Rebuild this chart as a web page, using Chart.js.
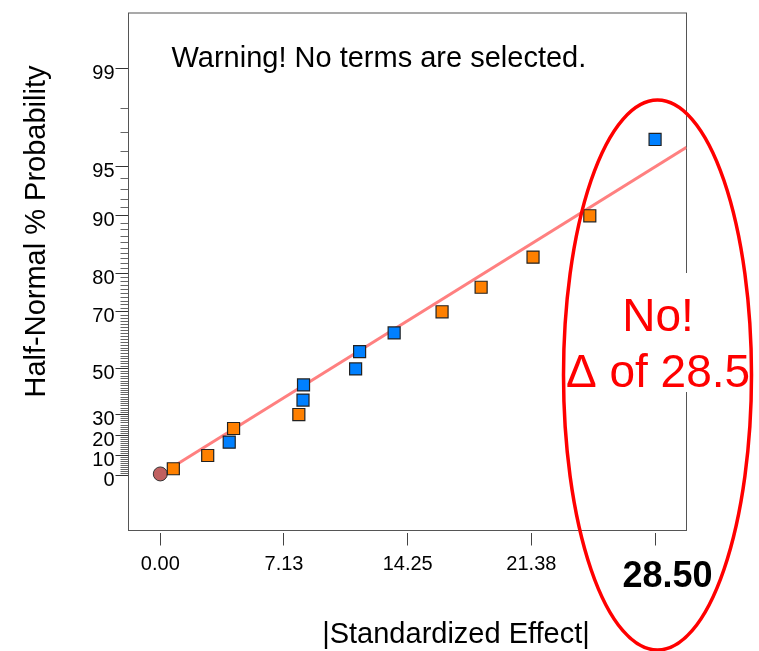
<!DOCTYPE html>
<html>
<head>
<meta charset="utf-8">
<script src="https://cdn.jsdelivr.net/npm/chart.js@4.4.1/dist/chart.umd.min.js"></script>
<style>
html, body { margin: 0; padding: 0; background: #fff; }
#wrap { position: relative; width: 759px; height: 651px; }
</style>
</head>
<body>
<div id="wrap"><canvas id="myHalfNormalChart"></canvas></div>
<script>
// values (x = |effect|, y = half-normal % probability)
var orangeEffects = [0.75, 2.73, 4.22, 7.98, 16.23, 18.48, 21.47, 24.74];
var orangeProbs = [3.33, 10, 23.33, 30, 70, 76.67, 83.33, 90];
var blueEffects = [3.97, 8.22, 8.25, 11.25, 11.48, 13.47, 28.50];
var blueProbs = [16.67, 36.67, 43.33, 50, 56.67, 63.33, 96.67];
var errorEffects = [0];
var errorProbs = [0.7];
var lineEffects = [0.75, 30.31];
var lineProbs = [4.47, 96.24];

var xTicks = [0, 7.125, 14.25, 21.375, 28.5];
var xTickLabels = ["0.00", "7.13", "14.25", "21.38", "28.50"];
var yMajorTicks = [0, 10, 20, 30, 50, 70, 80, 90, 95, 99];

var FONT = "'Liberation Sans', Arial, sans-serif";

// inverse normal (Acklam)
function probit(p) {
    var a = [-3.969683028665376e+01, 2.209460984245205e+02, -2.759285104469687e+02, 1.383577518672690e+02, -3.066479806614716e+01, 2.506628277459239e+00];
    var b = [-5.447609879822406e+01, 1.615858368580409e+02, -1.556989798598866e+02, 6.680131188771972e+01, -1.328068155288572e+01];
    var c = [-7.784894002430293e-03, -3.223964580411365e-01, -2.400758277161838e+00, -2.549671010229583e+00, 4.374664141464968e+00, 2.938163982698783e+00];
    var d = [7.784695709041462e-03, 3.224671290700398e-01, 2.445134137142996e+00, 3.754408661907416e+00];
    var pl = 0.02425, q, r;
    if (p < pl) {
        q = Math.sqrt(-2 * Math.log(p));
        return (((((c[0] * q + c[1]) * q + c[2]) * q + c[3]) * q + c[4]) * q + c[5]) / ((((d[0] * q + d[1]) * q + d[2]) * q + d[3]) * q + 1);
    }
    if (p > 1 - pl) {
        q = Math.sqrt(-2 * Math.log(1 - p));
        return -(((((c[0] * q + c[1]) * q + c[2]) * q + c[3]) * q + c[4]) * q + c[5]) / ((((d[0] * q + d[1]) * q + d[2]) * q + d[3]) * q + 1);
    }
    q = p - 0.5; r = q * q;
    return (((((a[0] * r + a[1]) * r + a[2]) * r + a[3]) * r + a[4]) * r + a[5]) * q / (((((b[0] * r + b[1]) * r + b[2]) * r + b[3]) * r + b[4]) * r + 1);
}
function phi(z) {
    var t = 1 / (1 + 0.3275911 * Math.abs(z) / Math.SQRT2);
    var e = 1 - (((((1.061405429 * t - 1.453152027) * t) + 1.421413741) * t - 0.284496736) * t + 0.254829592) * t * Math.exp(-z * z / 2);
    return z < 0 ? (1 - e) / 2 : (1 + e) / 2;
}
// percent -> half-normal quantile (signed so the axis can run a little below 0)
function hz(pct) {
    var s = pct < 0 ? -1 : 1;
    return s * probit(0.5 + Math.abs(pct) / 200);
}
function hp(z) {
    var s = z < 0 ? -1 : 1;
    return s * (2 * phi(Math.abs(z)) - 1) * 100;
}

class HalfNormalScale extends Chart.Scale {
    static id = 'halfnormal';
    static defaults = {};
    determineDataLimits() {
        this.min = this.options.min;
        this.max = this.options.max;
    }
    buildTicks() {
        var t = [];
        for (var v = 0; v <= 99; v++) t.push({ value: v });
        return t;
    }
    getLabelForValue(v) { return String(v); }
    configure() {
        super.configure();
        this._z0 = hz(this.min);
        this._z1 = hz(this.max);
    }
    getPixelForValue(v) {
        return this.getPixelForDecimal((hz(v) - this._z0) / (this._z1 - this._z0));
    }
    getValueForPixel(px) {
        return hp(this._z0 + this.getDecimalForPixel(px) * (this._z1 - this._z0));
    }
}
Chart.register(HalfNormalScale);

function pts(xs, ys) {
    return xs.map(function (x, i) { return { x: x, y: ys[i] }; });
}

const annotations = {
    id: 'annotations',
    beforeDatasetsDraw(chart) {
        var a = chart.chartArea, ctx = chart.ctx;
        ctx.save();
        ctx.strokeStyle = '#555';
        ctx.lineWidth = 1;
        ctx.strokeRect(a.left, a.top, a.right - a.left, a.bottom - a.top);
        ctx.restore();
    },
    afterDraw(chart) {
        var ctx = chart.ctx, xs = chart.scales.x;
        ctx.save();
        ctx.fillStyle = '#000';
        ctx.font = '29px ' + FONT;
        ctx.textAlign = 'left';
        ctx.textBaseline = 'alphabetic';
        ctx.fillText('Warning! No terms are selected.', 171.5, 66.5);

        ctx.textAlign = 'center';
        ctx.fillText('|Standardized Effect|', 456, 643);

        ctx.save();
        ctx.translate(45, 231.5);
        ctx.rotate(-Math.PI / 2);
        ctx.fillText('Half-Normal % Probability', 0, 0);
        ctx.restore();

        // bold label of the largest tick
        var last = xTicks.length - 1;
        ctx.font = 'bold 36px ' + FONT;
        ctx.fillText(xTickLabels[last], xs.getPixelForValue(xTicks[last]) + 12.5, 587);

        // white box under the callout text
        ctx.fillStyle = '#fff';
        ctx.fillRect(600, 273, 159, 119);

        ctx.fillStyle = '#ff0000';
        ctx.font = '46px ' + FONT;
        ctx.fillText('No!', 658, 331);
        ctx.fillText('\u0394 of 28.5', 658, 386.5);

        ctx.strokeStyle = '#ff0000';
        ctx.lineWidth = 3.5;
        ctx.beginPath();
        ctx.ellipse(657.5, 375, 94, 275, 0, 0, Math.PI * 2);
        ctx.stroke();
        ctx.restore();
    }
};

var ctx = document.getElementById('myHalfNormalChart');
var myChart = new Chart(ctx, {
    type: 'scatter',
    data: {
        datasets: [{
            label: 'fit',
            type: 'line',
            data: pts(lineEffects, lineProbs),
            borderColor: 'rgba(255,128,128,1)',
            borderWidth: 3,
            pointRadius: 0,
            fill: false,
            order: 3
        }, {
            label: 'error',
            data: pts(errorEffects, errorProbs),
            pointStyle: 'circle',
            pointRadius: 7,
            backgroundColor: '#c06060',
            borderColor: '#333',
            borderWidth: 1,
            order: 2
        }, {
            label: 'negative',
            data: pts(orangeEffects, orangeProbs),
            pointStyle: 'rect',
            pointRadius: 8.5,
            backgroundColor: '#ff8000',
            borderColor: '#222',
            borderWidth: 1.2,
            order: 1
        }, {
            label: 'positive',
            data: pts(blueEffects, blueProbs),
            pointStyle: 'rect',
            pointRadius: 8.5,
            backgroundColor: '#0080ff',
            borderColor: '#222',
            borderWidth: 1.2,
            order: 1
        }]
    },
    options: {
        animation: false,
        responsive: true,
        maintainAspectRatio: false,
        layout: { padding: { left: 0, top: 10, right: 72.5, bottom: 0 } },
        plugins: {
            legend: { display: false },
            tooltip: { enabled: false }
        },
        events: [],
        scales: {
            x: {
                type: 'linear',
                min: -1.832,
                max: 30.31,
                afterBuildTicks: function (s) {
                    s.ticks = xTicks.map(function (v) { return { value: v }; });
                },
                afterFit: function (s) { s.height = 120.5; },
                border: { display: false },
                grid: {
                    drawOnChartArea: false,
                    tickLength: 15,
                    tickColor: '#444',
                    tickBorderDash: [0, 2, 13, 100]
                },
                ticks: {
                    autoSkip: false,
                    maxRotation: 0,
                    padding: 7,
                    color: '#000',
                    font: { size: 20, family: FONT },
                    callback: function (v, i) {
                        return i === xTicks.length - 1 ? '' : xTickLabels[i];
                    }
                }
            },
            y: {
                type: 'halfnormal',
                position: 'left',
                min: -27.34,
                max: 99.661,
                afterFit: function (s) { s.width = 128.5; },
                border: { display: false },
                grid: {
                    drawOnChartArea: false,
                    tickLength: 13,
                    tickColor: function (c) {
                        return yMajorTicks.indexOf(c.tick.value) >= 0 ? '#333' : '#666';
                    },
                    tickBorderDash: function (c) {
                        return yMajorTicks.indexOf(c.tick.value) >= 0 ? [] : [0, 5, 8, 100];
                    }
                },
                ticks: {
                    autoSkip: false,
                    padding: 1,
                    labelOffset: 5,
                    color: '#000',
                    font: { size: 20, family: FONT },
                    callback: function (v) {
                        return yMajorTicks.indexOf(v) >= 0 ? String(v) : '';
                    }
                }
            }
        }
    },
    plugins: [annotations]
});
</script>
</body>
</html>
